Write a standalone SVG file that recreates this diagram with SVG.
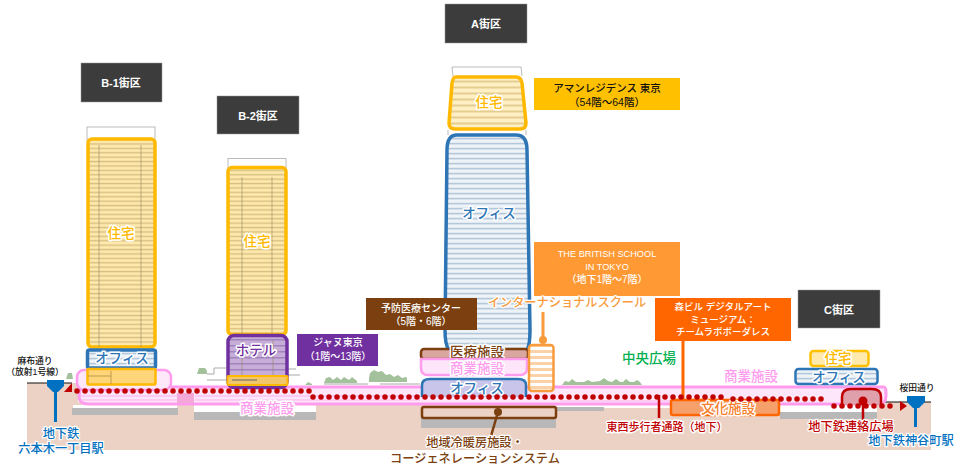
<svg xmlns="http://www.w3.org/2000/svg" width="960" height="470" viewBox="0 0 960 470">
<style>
text{font-family:"Liberation Sans","Noto Sans CJK JP",sans-serif;text-anchor:middle}
.lb{font-size:11px;font-weight:700;fill:#fff}
.dk{fill:#3c3c3c;stroke:#999;stroke-width:.5}
.big{font-size:13.500px;font-weight:500;paint-order:stroke;stroke:#fff;stroke-width:3px;stroke-linejoin:round}
.mid{font-size:12.200px;font-weight:500;paint-order:stroke;stroke:#fff;stroke-width:2.500px;stroke-linejoin:round}
.cap{font-size:10px;font-weight:500;fill:#fff}
.capk{font-size:10.500px;font-weight:500;fill:#111}
.sm{font-size:8.800px;font-weight:500;fill:#111}
.rf{fill:#fff;stroke:#bbb;stroke-width:1}
.res{fill:url(#ys);stroke:#ffb900;stroke-width:3.500}
.res2{fill:url(#ys2);stroke:#ffb900;stroke-width:3.500}
.off{fill:url(#bs);stroke:#2e75b6;stroke-width:3.500}
.vl{stroke:#8f8560;stroke-width:.8;opacity:.7}
.tree{fill:#a3c19a}
.grey{fill:#b8b8b8}
.wh{fill:#fff}
.dots{fill:none;stroke:#c00000;stroke-width:5.500;stroke-linecap:round;stroke-dasharray:0 8}
.red{fill:#c00000}
.blue{fill:#0070c0}
.pk{fill:#ff9cee}
</style>
<defs>
<pattern id="ys" width="4" height="4.400" patternUnits="userSpaceOnUse"><rect width="4" height="4.400" fill="#ffe9ac"/><rect y="2.400" width="4" height="1.500" fill="#d9c184"/></pattern>
<pattern id="ys2" width="4" height="6" patternUnits="userSpaceOnUse"><rect width="4" height="6" fill="#fff0c4"/><rect y="2.500" width="4" height="2" fill="#e3cd92"/></pattern>
<pattern id="bs" width="4" height="5" patternUnits="userSpaceOnUse"><rect width="4" height="5" fill="#eef3f8"/><rect y="2.800" width="4" height="1.600" fill="#b4c7db"/></pattern>
<pattern id="ps" width="4" height="6" patternUnits="userSpaceOnUse"><rect width="4" height="6" fill="#c7aed8"/><rect y="3" width="4" height="1.500" fill="#a283bd"/></pattern>
<pattern id="os" width="4" height="6" patternUnits="userSpaceOnUse"><rect width="4" height="6" fill="#fff"/><rect y="2" width="4" height="3" fill="#fbd2a8"/></pattern>
</defs>

<g id="ground">
<path d="M27 383H78V402H931V450H27Z" fill="#ecd2c4"/>
<path d="M27 383H47M64 383H72M880 402H931" stroke="#111" stroke-width="1.200" fill="none"/>
<rect class="wh" x="73" y="405" width="104" height="4"/><rect class="grey" x="72" y="408" width="106" height="7"/>
<rect class="wh" x="194" y="405" width="122" height="8"/><rect class="grey" x="194" y="412" width="122" height="8"/>
<rect class="grey" x="421" y="418" width="135" height="10"/>
<rect class="wh" x="780" y="405" width="97" height="8"/><rect class="grey" x="780" y="412" width="97" height="7"/>
<rect class="wh" x="556" y="405" width="122" height="3"/><rect class="grey" x="556" y="407" width="48" height="4"/>
</g>

<g id="trees">
<path class="tree" d="M324 383l2-5 4-1 3 3 4-3 4 3 3-3 5 3 3-3 5 4v2zM369 378l1-5 4-3 4 2 4-1 4 4 4-1 4 3 4-2 4 3 4-1 1 1v4h-38zM562 385l3-4 4 1 3-3 4 3 8 0 4-2 4 2 8-1 4-3 4 3 4 1 4-3 4 3 3 0 3-3 4 3 4 0 3-2 3 2 2 3zM197 374l2-6 6 0 2 3 0 3zM66 379l2-6 4 0 1 6zM305 385l3-3 4 2v1z"/>
<path d="M207 380H228M207 374H214V368H226M288 375H300M288 369H296M324 384H368M380 384H420M330 388H368" fill="none" stroke="#a9a9a9" stroke-width="1"/>
<path d="M566 389H700" stroke="#8a6d86" stroke-width="1.400"/>
</g>

<g id="commercial-band">
<path d="M80 387H884Q886 387 886 393V396Q886 404 878 404H88Q79 404 79 396Z" fill="#fde6f9" stroke="#ff9cee" stroke-width="3"/>
<path d="M80 400H178M80 396H178M195 400H420M195 396H420M560 401H670" stroke="#ffb0f0" stroke-width="1"/>
<rect x="177" y="393" width="17" height="10" fill="#f4a8d8"/>
<text class="big pk" x="267" y="413">商業施設</text>
<text class="big pk" x="751" y="381">商業施設</text>
</g>

<g id="block-b1">
<rect class="dk" x="81" y="63" width="81" height="39"/>
<text class="lb" x="121" y="87">B-1街区</text>
<rect class="rf" x="87" y="127" width="68" height="13"/>
<rect class="res" x="88" y="139" width="67" height="208" rx="4"/>
<path class="vl" d="M99 145V347M141 145V347"/>
<text class="big" x="121" y="238" fill="#ffb900">住宅</text>
<rect class="off" x="87.500" y="350" width="68" height="18" rx="2"/>
<text class="big" x="122" y="363" fill="#2e75b6">オフィス</text>
<rect x="77" y="370" width="94" height="20" rx="7" fill="#fde8fa" stroke="#ff9cee" stroke-width="2.500"/>
<rect x="87.500" y="369" width="68" height="15.500" fill="#ffd57a" stroke="#ffb900" stroke-width="2.500" rx="1"/>
<path d="M88 376H111M111 371V384" stroke="#b08d45" fill="none" stroke-width=".8"/>
</g>

<g id="block-b2">
<rect class="dk" x="217" y="96" width="82" height="38"/>
<text class="lb" x="258" y="120">B-2街区</text>
<rect class="rf" x="228" y="158.500" width="58" height="9"/>
<rect class="res" x="228" y="167.500" width="58" height="167" rx="4"/>
<path class="vl" d="M242 177V333M272 177V333"/>
<text class="big" x="257" y="246" fill="#ffb900">住宅</text>
<rect x="228" y="335.500" width="59" height="52" rx="6" fill="url(#ps)" stroke="#7030a0" stroke-width="3.500"/>
<path class="vl" d="M242 340V376M273 340V376"/>
<text class="big" x="256" y="355" fill="#7030a0">ホテル</text>
<rect x="227.500" y="376" width="60" height="9" rx="1" fill="#f2c66b" stroke="#ffb900" stroke-width="2"/>
<rect x="232" y="379" width="25" height="2" fill="#a8956a"/>
<rect x="297" y="334" width="81" height="32" fill="#7030a0"/>
<text class="cap" x="338" y="346">ジャヌ東京</text>
<text class="cap" x="338" y="360">（1階～13階）</text>
</g>

<g id="block-a">
<rect class="dk" x="445" y="4" width="82" height="39"/>
<text class="lb" x="486" y="28">A街区</text>
<path class="rf" d="M453 76L452 67H521L522 76"/>
<path class="res2" d="M456 77H516Q521 77 522 83L526 123Q526 129 520 129H455Q449 129 449 123L452 83Q453 77 456 77Z"/>
<text class="big" x="489" y="107" fill="#ffb900">住宅</text>
<path class="rf" d="M448 130V135M526 130V135"/>
<rect x="534" y="78" width="146" height="32" fill="#ffc000"/>
<text class="capk" x="607" y="92">アマンレジデンス 東京</text>
<text class="capk" x="607" y="106">（54階～64階）</text>
<path class="off" d="M457 135H516Q527 135 527 150L530 330Q530 345 527 350H449Q445 345 445 330L447 150Q447 135 457 135Z"/>
<text class="big" x="489" y="218" fill="#2e75b6">オフィス</text>
<rect x="421" y="349" width="107" height="10" rx="3" fill="#d9a7a0" stroke="#7b3f10" stroke-width="2.500"/>
<text class="big" x="477" y="357" fill="#7b3f10">医療施設</text>
<path d="M421 359H527V368Q527 375 520 375H428Q421 375 421 368Z" fill="#fde6fa" stroke="#ff9cee" stroke-width="2.500"/>
<text class="big pk" x="477" y="373">商業施設</text>
<path d="M422 397V385Q422 379 430 379H518Q526 379 526 385V397" fill="#c9c5ea" stroke="#2e75b6" stroke-width="2.500"/>
<text class="big" x="477" y="393" fill="#2e75b6">オフィス</text>
<rect x="366" y="298" width="111" height="32" fill="#7b3f10"/>
<text class="cap" x="421" y="312">予防医療センター</text>
<text class="cap" x="421" y="325">（5階・6階）</text>
<g id="school">
<rect x="534" y="242" width="146" height="54" fill="#ff9933"/>
<text class="cap" x="607" y="257" style="font-size:9.200px">THE BRITISH SCHOOL</text>
<text class="cap" x="607" y="270" style="font-size:9.200px">IN TOKYO</text>
<text class="cap" x="607" y="283">（地下1階～7階）</text>
<text class="mid" x="567" y="307" fill="#f79b3c">インターナショナルスクール</text>
<path d="M543 312V340" stroke="#f79b3c" stroke-width="3"/>
<circle cx="543" cy="340" r="4" fill="#f79b3c"/>
<rect x="529" y="345" width="24.500" height="46" rx="3" fill="url(#os)" stroke="#f79b3c" stroke-width="2.500"/>
</g>
<g id="dhc">
<rect x="422" y="407" width="134" height="11" rx="2" fill="#ecd2c4" stroke="#7b3f10" stroke-width="2.500"/>
<path d="M498 412L491 436" stroke="#7b3f10" stroke-width="2.500"/>
<circle cx="498" cy="412" r="4" fill="#7b3f10"/>
<text class="mid" x="475" y="447" fill="#7b3f10">地域冷暖房施設・</text>
<text class="mid" x="475" y="463" fill="#7b3f10">コージェネレーションシステム</text>
</g>
</g>

<g id="central-plaza">
<text class="big" x="649" y="363" fill="#00b050">中央広場</text>
</g>

<g id="museum">
<rect x="655" y="298" width="136" height="43" fill="#ff6600"/>
<text class="cap" x="723" y="310" style="font-size:9.500px">森ビル デジタルアート</text>
<text class="cap" x="723" y="323" style="font-size:9.500px">ミュージアム：</text>
<text class="cap" x="723" y="335" style="font-size:9.500px">チームラボボーダレス</text>
<path d="M683 341V400" stroke="#ff6600" stroke-width="3"/>
<rect x="671" y="400" width="108" height="15" rx="2" fill="#f6a06c" stroke="#ff6600" stroke-width="2.500"/>
<text class="big" x="728" y="413" fill="#f6802c">文化施設</text>
</g>

<g id="block-c">
<rect class="dk" x="798" y="290" width="82" height="38"/>
<text class="lb" x="839" y="314">C街区</text>
<rect x="810.500" y="351" width="58" height="15" rx="3" fill="#ffe9ac" stroke="#ffc000" stroke-width="2.500"/>
<text class="big" x="838" y="363" fill="#ffb900">住宅</text>
<rect x="795.500" y="369" width="82" height="15" rx="3" fill="url(#bs)" stroke="#2e75b6" stroke-width="2.500"/>
<text class="big" x="839" y="382" fill="#2e75b6">オフィス</text>
<path d="M842 405V397Q842 389 851 389H872Q881 389 881 397V405" fill="#dfa0ac" stroke="#c00000" stroke-width="2.500"/>
</g>

<g id="connectors">
<path class="dots" d="M77 391H312"/>
<path class="dots" d="M313 397H725"/>
<path class="dots" d="M733 399H822"/>
<path class="dots" d="M834 406H895"/>
<path class="red" d="M72 383L64 392H72ZM900 401L907 406L900 411Z"/>
<path d="M659 395V418M863 401V420" stroke="#c00000" stroke-width="2.500"/>
<circle cx="863" cy="401" r="4.500" class="red"/>
</g>

<g id="station-west">
<path class="blue" d="M47 380H64V386L58 392H53L47 386Z"/>
<rect class="blue" x="54" y="390" width="3" height="32"/>
<text class="mid" x="61" y="438" fill="#0070c0">地下鉄</text>
<text class="mid" x="61" y="453" fill="#0070c0">六本木一丁目駅</text>
<text class="sm" x="35" y="364">麻布通り</text>
<text class="sm" x="35" y="375">（放射1号線）</text>
</g>

<g id="station-east">
<path class="blue" d="M907 396H925V402L919 408H913L907 402Z"/>
<rect class="blue" x="914" y="406" width="3" height="21"/>
<text class="sm" x="917" y="391">桜田通り</text>
<text class="mid" x="911" y="445" fill="#0070c0">地下鉄神谷町駅</text>
</g>

<g id="labels-red">
<text class="big" x="667" y="431" fill="#c00000" style="font-size:11px">東西歩行者通路（地下）</text>
<text class="mid" x="851" y="431" fill="#c00000">地下鉄連絡広場</text>
</g>
</svg>
